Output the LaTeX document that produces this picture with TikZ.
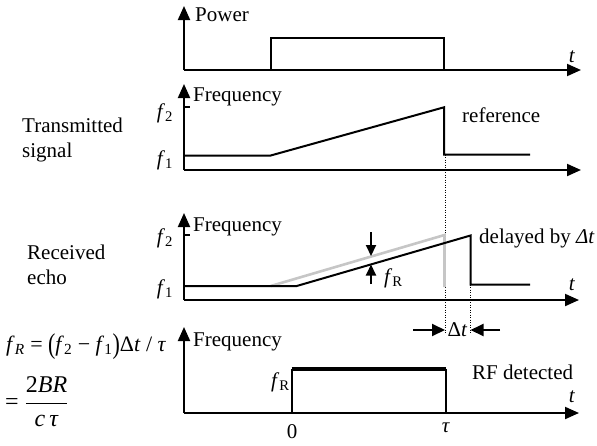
\documentclass[tikz,border=0pt]{standalone}
\usepackage{fontspec}
\setmainfont{Liberation Serif}
\usetikzlibrary{arrows.meta}
\newcommand{\tallparen}[1]{\raisebox{-0.12em}{\scalebox{1}[1.3]{#1}}}
\begin{document}
\begin{tikzpicture}[x=1pt,y=-1pt,
  axis/.style={line width=2pt,-{Triangle[length=14pt,width=12pt]}},
  sig/.style={line width=2pt},
  ghost/.style={line width=2.6pt,gray!45},
  lbl/.style={font=\fontsize{21}{25}\selectfont, inner sep=0pt},
  dots/.style={line width=1pt,dash pattern=on 1pt off 1.5pt},
  marker/.style={line width=2pt,-{Triangle[length=11pt,width=10pt]}},
  dtarrow/.style={line width=2pt,-{Triangle[length=13pt,width=12pt]}},
  tick/.style={line width=1.5pt}]
\useasboundingbox (0,0) rectangle (597,445);
% ---------- panel 1: power ----------
\coordinate (o1) at (184,70);
\coordinate (y1) at (184,6);
\coordinate (x1) at (581,70);
\draw[axis] (o1) -- (y1);
\draw[axis] (o1) -- (x1);
\draw[sig] (270.7,70) -- (270.7,38) -- (444,38) -- (444,70);
\node[lbl,anchor=west] (pw) at (195,15) {Power};
\node[lbl] (t1) at (572,57) {\textit{t}};
% ---------- panel 2: transmitted ----------
\coordinate (o2) at (184,170);
\coordinate (y2) at (184,84);
\coordinate (x2) at (581,170);
\draw[axis] (o2) -- (y2);
\draw[axis] (o2) -- (x2);
\draw[tick] (184,107) -- (190,107);
\draw[sig] (184,155.5) -- (270.7,155.5) -- (444,107.3) -- (444,154.5) -- (530,154.5);
\node[lbl,anchor=west] (fq2) at (193,97) {Frequency};
\node[lbl] (f22) at (165,113) {\textit{f}\textsubscript{2}};
\node[lbl] (f12) at (165,160) {\textit{f}\textsubscript{1}};
\node[lbl,anchor=west,align=left] (tx) at (22,139.5) {Transmitted\\signal};
\node[lbl,anchor=west] (ref) at (462,115) {reference};
% ---------- panel 3: received ----------
\coordinate (o3) at (184,300);
\coordinate (y3) at (184,213);
\coordinate (x3) at (579,300);
\draw[axis] (o3) -- (y3);
\draw[axis] (o3) -- (x3);
\draw[tick] (184,235) -- (190,235);
% dotted time markers
\coordinate (d1a) at (445,154.5);
\coordinate (d1b) at (445,334);
\coordinate (d2a) at (470.5,284.5);
\coordinate (d2b) at (470.5,334);
\draw[dots] (d1a) -- (d1b);
\draw[dots] (d2a) -- (d2b);
\draw[ghost] (270.7,286) -- (444.5,235) -- (444.5,287);
\draw[sig] (184,286) -- (296.7,286) -- (470.5,235.5) -- (470.5,284.5) -- (530,284.5);
\node[lbl,anchor=west] (fq3) at (193,227) {Frequency};
\node[lbl] (f23) at (165,238) {\textit{f}\textsubscript{2}};
\node[lbl] (f13) at (165,289) {\textit{f}\textsubscript{1}};
\node[lbl,anchor=west,align=left] (rx) at (27,264.5) {Received\\echo};
\node[lbl,anchor=west] (del) at (479,238) {delayed by \textit{Δt}};
\node[lbl] (t3) at (572,285) {\textit{t}};
% f_R markers
\coordinate (ma) at (371,232);
\coordinate (mb) at (371,256);
\coordinate (mc) at (371,284);
\coordinate (md) at (371,264.5);
\draw[marker] (ma) -- (mb);
\draw[marker] (mc) -- (md);
\node[lbl,anchor=west] (fr3) at (384,278) {\textit{f}\textsubscript{R}};
% Delta t markers
\coordinate (la) at (413,330);
\coordinate (lb) at (445,330);
\coordinate (ra) at (500,330);
\coordinate (rb) at (470.5,330);
\draw[dtarrow] (la) -- (lb);
\draw[dtarrow] (ra) -- (rb);
\node[lbl] (dt) at (457.5,330) {Δ\textit{t}};
% ---------- panel 4: detected ----------
\coordinate (o4) at (184,413);
\coordinate (y4) at (184,327);
\coordinate (x4) at (579,413);
\draw[axis] (o4) -- (y4);
\draw[axis] (o4) -- (x4);
\draw[sig] (291.7,413) -- (291.7,369) (446,369) -- (446,413);
\draw[line width=4.5pt] (291.7,369) -- (446,369);
\node[lbl,anchor=west] (fq4) at (193,342) {Frequency};
\node[lbl,anchor=east] (fr4) at (290,382) {\textit{f}\textsubscript{R}};
\node[lbl,anchor=west] (rf) at (472,372) {RF detected};
\node[lbl] (t4) at (572,397) {\textit{t}};
\node[lbl] (zero) at (292,432) {0};
\node[lbl] (tau) at (446,428) {\textit{τ}};
% ---------- formula ----------
\node[lbl,anchor=west,font=\fontsize{22}{26}\selectfont] (eq1) at (6,347)
  {\textit{f}\textsubscript{\textit{R}} = \tallparen{(}\textit{f}\textsubscript{2} − \textit{f}\textsubscript{1}\tallparen{)}Δ\textit{t} / \textit{τ}};
\node[lbl,anchor=west,font=\fontsize{24}{28}\selectfont] (eq2) at (5,402)
  {= $\displaystyle\frac{\hbox{2\textit{BR}}}{\hbox{\textit{c\,τ}}}$};
\end{tikzpicture}
\end{document}
